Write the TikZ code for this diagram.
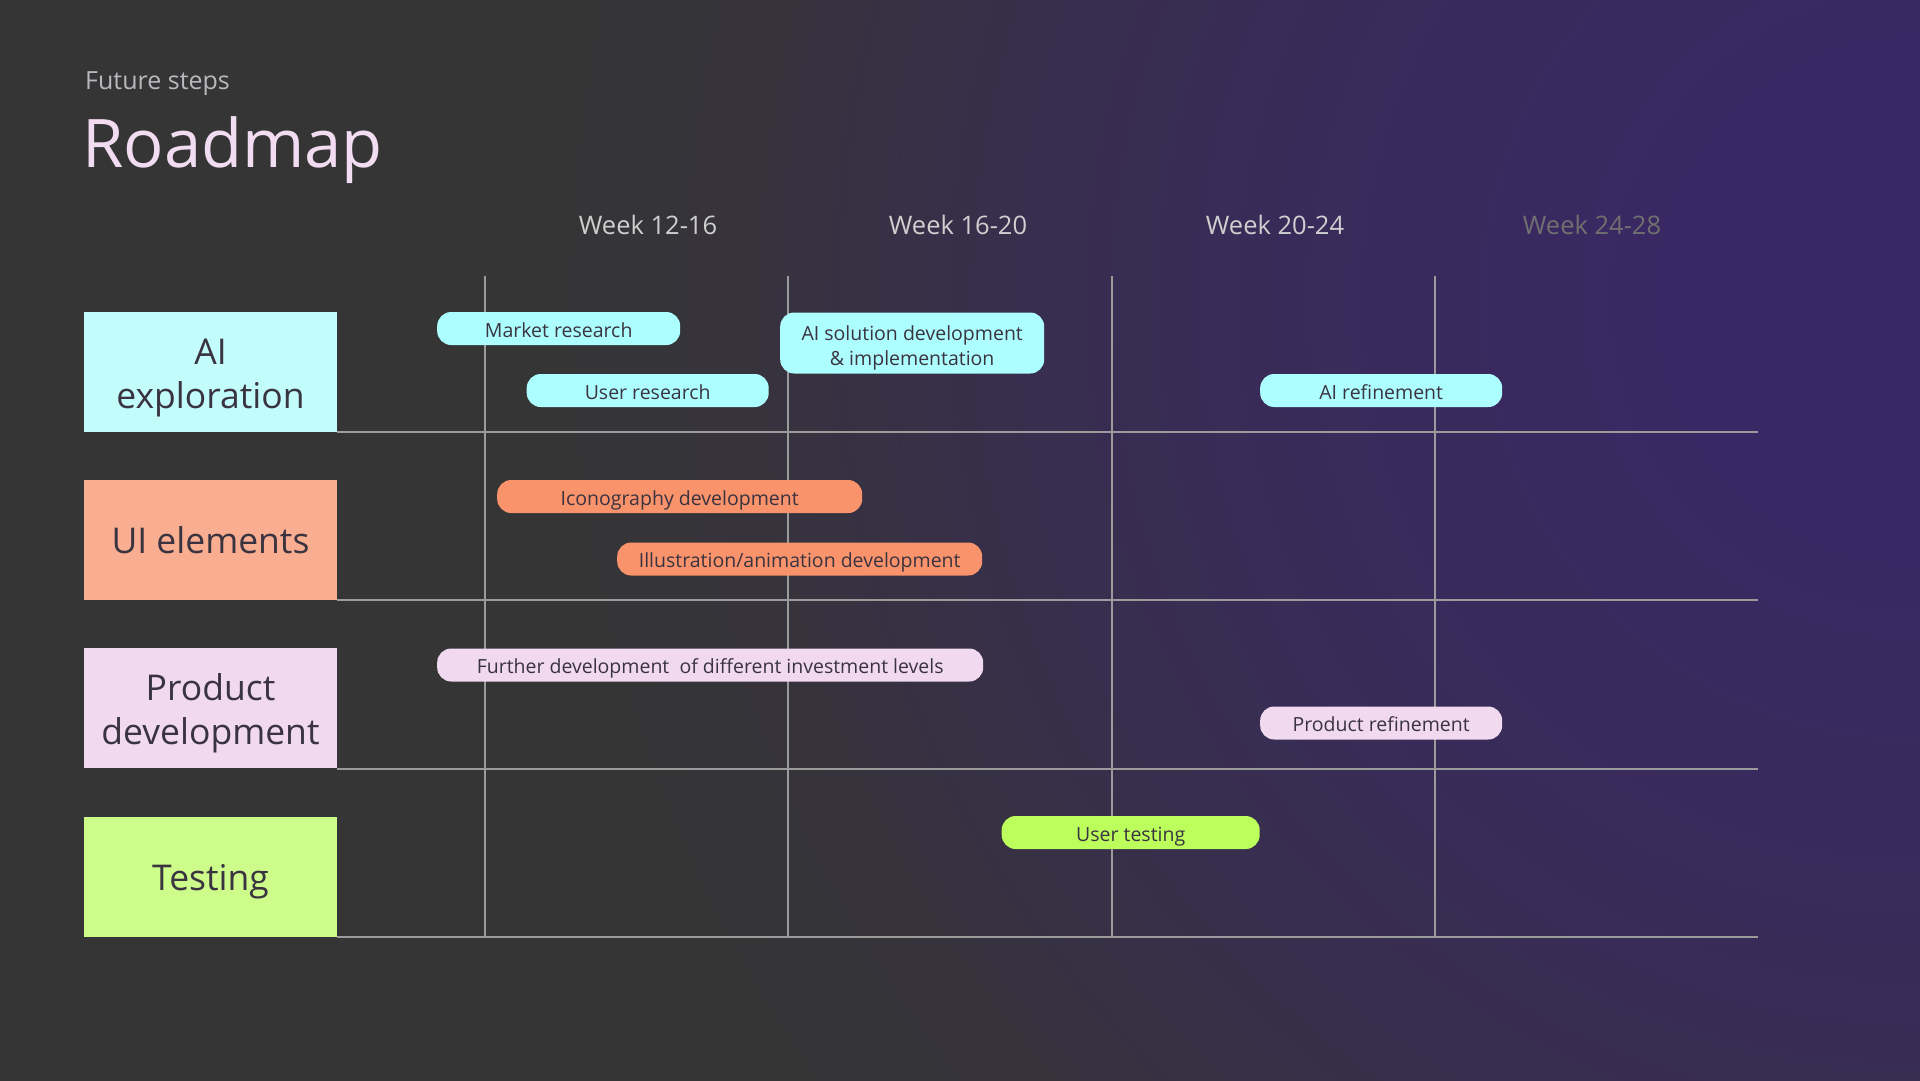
\documentclass[tikz,border=0pt]{standalone}
\usepackage{fontspec}
\setmainfont{Open Sans}
\usepackage{xcolor}
\usepackage{tikz}
\usetikzlibrary{positioning}

\definecolor{bggray}{HTML}{353535}
\definecolor{purp}{HTML}{3A2864}
\definecolor{aibox}{HTML}{C2FDFC}
\definecolor{aipill}{HTML}{ADFEFE}
\definecolor{uibox}{HTML}{F9AE92}
\definecolor{uipill}{HTML}{F8936B}
\definecolor{pdbox}{HTML}{F1DAF0}
\definecolor{tsbox}{HTML}{CDFC8A}
\definecolor{tspill}{HTML}{BCFF5C}
\definecolor{txt}{HTML}{3A3340}
\definecolor{gridc}{HTML}{9B9B9B}
\definecolor{weekc}{HTML}{CFCFCF}
\definecolor{weekdim}{HTML}{707070}
\definecolor{subt}{HTML}{B8B8BE}
\definecolor{titlec}{HTML}{F2DCF1}

\pgfdeclareradialshading{bgglow}{\pgfpoint{0bp}{0bp}}{%
    color(0bp)=(purp); color(250bp)=(purp); color(700bp)=(purp!72!bggray);
    color(950bp)=(purp!45!bggray); color(1200bp)=(purp!12!bggray);
    color(1400bp)=(bggray); color(2200bp)=(bggray)}

\newcommand{\sinktext}[2]{\raisebox{-#1}[\height][\depth]{\begin{tabular}{@{}c@{}}#2\end{tabular}}}

\begin{document}
\begin{tikzpicture}[x=1pt, y=-1pt, node distance=48pt,
    cat/.style={rectangle, minimum width=253pt, minimum height=120pt, inner sep=0pt, align=center, text=txt, font=\fontsize{35.5}{44}\selectfont},
    catone/.style={cat, text height=27pt, text depth=0pt},
    pill/.style={rectangle, rounded corners=14pt, minimum height=33pt, inner sep=0pt, anchor=west, align=center, text=txt, text height=17.5pt, text depth=0pt, font=\fontsize{19.5}{24.5}\selectfont},
    week/.style={text=weekc, font=\fontsize{25.5}{30}\selectfont},
    gridline/.style={draw=gridc, line width=2pt}]
    \useasboundingbox (0,0) rectangle (1920,1080);
    \begin{scope}
        \clip (0,0) rectangle (1920,1080);
        \node[inner sep=0pt] (glow) at (1920,300) {\pgfuseshading{bgglow}};
    \end{scope}

    \node[anchor=base west, inner sep=0pt, text=subt, font=\fontsize{25}{30}\selectfont] (sub) at (85,89) {Future steps};
    \node[anchor=base west, inner sep=0pt, text=titlec, font=\fontsize{67}{72}\selectfont] (title) at (82,167) {Roadmap};

    \node[week] (w1) at (648,225) {Week 12-16};
    \node[week] (w2) at (958,225) {Week 16-20};
    \node[week] (w3) at (1275,225) {Week 20-24};
    \node[week, text=weekdim] (w4) at (1592,225) {Week 24-28};

    \node[cat, fill=aibox] (ai) at (210.5,371.5) {\sinktext{6pt}{AI\\exploration}};
    \node[catone, fill=uibox, below=of ai] (ui) {UI elements};
    \node[cat, fill=pdbox, below=of ui] (pd) {\sinktext{5pt}{Product\\development}};
    \node[catone, fill=tsbox, below=of pd] (ts) {Testing};

    \coordinate (gridend) at (1758,0);
    \foreach \gx in {485,787.5,1112,1435}
        \path[gridline] (\gx,275.5) -- (\gx,935.5);
    \foreach \row in {ai,ui,pd,ts}
        \path[gridline] (\row.south east) -- (\row.south east -| gridend);

    \node[pill, fill=aipill, minimum width=243pt] (mkt) at (437,328.5) {Market research};
    \node[pill, fill=aipill, minimum width=242pt] (usr) at (526.5,390.5) {User research};
    \node[pill, fill=aipill, minimum width=264pt, minimum height=61pt, text height=, text depth=] (aisol) at (780,343) {\sinktext{5pt}{AI solution development\\\& implementation}};
    \node[pill, fill=aipill, minimum width=242pt] (airef) at (1260,390.5) {AI refinement};
    \node[pill, fill=uipill, minimum width=365pt] (icon) at (497,496.5) {Iconography development};
    \node[pill, fill=uipill, minimum width=365pt] (illu) at (617,559) {Illustration/animation development};
    \node[pill, fill=pdbox, minimum width=546pt] (invest) at (437,665) {Further development~ of different investment levels};
    \node[pill, fill=pdbox, minimum width=242pt] (pdref) at (1260,723) {Product refinement};
    \node[pill, fill=tspill, minimum width=258pt] (utest) at (1001.5,832.5) {User testing};
\end{tikzpicture}
\end{document}
